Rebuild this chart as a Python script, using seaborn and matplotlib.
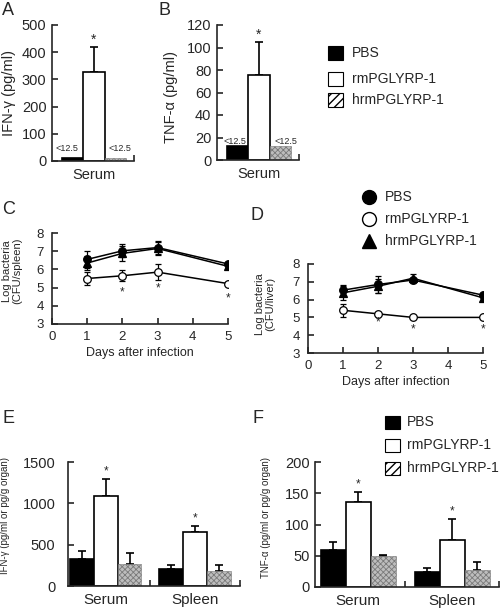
import numpy as np
import pandas as pd
import matplotlib
matplotlib.use("Agg")
import matplotlib.pyplot as plt
import seaborn as sns
from matplotlib.patches import Rectangle
from matplotlib.container import BarContainer

# ---------------- data ----------------
treatments = ["PBS", "rmPGLYRP-1", "hrmPGLYRP-1"]

# Panel A / B (serum, single category)
a_values = [12.5, 328, 12.5]
a_err = [0, 92, 0]
b_values = [12.5, 76, 12.5]
b_err = [0, 29, 0]
lod_label = "<12.5"

# Panels C / D (time course)
days = [1, 2, 3, 5]
c_pbs = [6.55, 7.02, 7.20, 6.30]
c_pbs_err = [0.45, 0.35, 0.35, 0.10]
c_rm = [5.50, 5.65, 5.85, 5.22]
c_rm_err = [0.35, 0.30, 0.42, 0.08]
c_hrm = [6.35, 6.88, 7.15, 6.17]
c_hrm_err = [0.40, 0.40, 0.35, 0.10]
c_star_days = [2, 3, 5]
c_star_y = [4.75, 4.95, 4.40]

d_pbs = [6.53, 6.85, 7.10, 6.25]
d_pbs_err = [0.30, 0.50, 0.12, 0.08]
d_rm = [5.40, 5.20, 5.00, 5.00]
d_rm_err = [0.37, 0.05, 0.03, 0.03]
d_hrm = [6.38, 6.75, 7.20, 6.10]
d_hrm_err = [0.40, 0.40, 0.25, 0.10]
d_star_days = [2, 3, 5]
d_star_y = [4.70, 4.33, 4.33]

# Panels E / F (serum, spleen)
tissues = ["Serum", "Spleen"]
e_pbs = [332, 204]
e_pbs_err = [92, 48]
e_rm = [1084, 652]
e_rm_err = [212, 72]
e_hrm = [272, 176]
e_hrm_err = [124, 76]

f_pbs = [58.8, 23.5]
f_pbs_err = [13, 7.5]
f_rm = [136, 75]
f_rm_err = [16, 34]
f_hrm = [49, 26.7]
f_hrm_err = [3, 13]

# ---------------- style ----------------
sns.set_style("ticks")
plt.rcParams["font.family"] = ["Liberation Sans", "DejaVu Sans"]
plt.rcParams["axes.linewidth"] = 1.2
plt.rcParams["hatch.linewidth"] = 0.6

W, H = 500, 609
fig = plt.figure(figsize=(W / 100, H / 100), dpi=100)


def px_axes(left, top, right, bottom):
    ax = fig.add_axes([left / W, 1 - bottom / H, (right - left) / W, (bottom - top) / H])
    ax.set_facecolor("none")
    return ax


bar_colors = {"PBS": "black", "rmPGLYRP-1": "white", "hrmPGLYRP-1": "#bdbdbd"}


def bar_panel(ax, cats, series, errs, xlim, ylim, yticks, ticksize, catsize, capsize):
    rows = []
    for t, vals in zip(treatments, series):
        for c, v in zip(cats, vals):
            rows.append({"tissue": c, "treatment": t, "value": v})
    df = pd.DataFrame(rows)
    sns.barplot(data=df, x="tissue", y="value", hue="treatment", hue_order=treatments,
                order=cats, palette=bar_colors, errorbar=None, width=0.8,
                edgecolor="black", linewidth=1.2, legend=False, ax=ax, zorder=2)
    bar_conts = [c for c in ax.containers if isinstance(c, BarContainer)]
    tops = []
    for i, cont in enumerate(bar_conts):
        col_tops = []
        for j, bar in enumerate(cont):
            if treatments[i] == "hrmPGLYRP-1":
                bar.set_hatch("xxxxxx")
                bar.set_edgecolor("#7a7a7a")
                bar.set_linewidth(0.4)
            x = bar.get_x() + bar.get_width() / 2
            y = bar.get_height()
            e = errs[i][j]
            if e > 0:
                ax.errorbar([x], [y], yerr=[[0], [e]], fmt="none", ecolor="black",
                            elinewidth=1.2, capsize=capsize, capthick=1.2, zorder=1)
            col_tops.append((x, y + e))
        tops.append(col_tops)
    ax.set_xlim(*xlim)
    ax.set_ylim(*ylim)
    ax.set_yticks(yticks)
    ax.set_xlabel("")
    ax.set_ylabel("")
    n = len(cats)
    ax.set_xticks([k + 0.5 for k in range(n)])
    ax.set_xticklabels([])
    ax.set_xticks(list(range(n)), minor=True)
    ax.set_xticklabels(cats, minor=True, fontsize=catsize)
    ax.tick_params(axis="x", which="minor", length=0, pad=5)
    ax.tick_params(axis="x", which="major", direction="in", length=4, width=1.2)
    ax.tick_params(axis="y", direction="in", length=4, width=1.2, labelsize=ticksize, pad=4)
    sns.despine(ax=ax)
    return tops


# ---- Panel A ----
axA = px_axes(52, 25, 134, 161)
topsA = bar_panel(axA, ["Serum"], [[v] for v in a_values], [[e] for e in a_err],
                  (-0.525, 0.5), (0, 500), [0, 100, 200, 300, 400, 500], 10.5, 10.5, 3)
axA.set_ylabel("IFN-γ (pg/ml)", fontsize=10.5, va="center")
axA.yaxis.set_label_coords((9 - 52) / 82, 0.5)
for i, dx in ((0, -4), (2, 3)):
    x, y = topsA[i][0]
    axA.annotate(lod_label, (x, y), xytext=(dx, 3), textcoords="offset points",
                 ha="center", va="bottom", fontsize=6.5)
x, y = topsA[1][0]
axA.annotate("*", (x, y), xytext=(0, 0), textcoords="offset points",
             ha="center", va="bottom", fontsize=10)

# ---- Panel B ----
axB = px_axes(217, 25, 299, 160)
topsB = bar_panel(axB, ["Serum"], [[v] for v in b_values], [[e] for e in b_err],
                  (-0.525, 0.5), (0, 120), [0, 20, 40, 60, 80, 100, 120], 10.5, 10.5, 3)
axB.set_ylabel("TNF-α (pg/ml)", fontsize=10.5, va="center")
axB.yaxis.set_label_coords((171 - 217) / 82, 1 - (97 - 25) / 135)
for i, dx in ((0, -2), (2, 4)):
    x, y = topsB[i][0]
    axB.annotate(lod_label, (x, y), xytext=(dx, 0), textcoords="offset points",
                 ha="center", va="bottom", fontsize=6.5)
x, y = topsB[1][0]
axB.annotate("*", (x, y), xytext=(0, 0), textcoords="offset points",
             ha="center", va="bottom", fontsize=10)


# ---- line panels ----
def line_panel(ax, series, errs, star_days, star_y, ylabel, label_x_frac, label_y_frac):
    markers = ["o", "o", "^"]
    faces = ["black", "white", "black"]
    for vals, err in zip(series, errs):
        ax.errorbar(days, vals, yerr=err, fmt="none", ecolor="black", elinewidth=0.9,
                    capsize=2, capthick=0.9, zorder=2)
    for vals, m, fc in zip(series, markers, faces):
        sns.lineplot(x=days, y=vals, color="black", linewidth=1.1, marker=m,
                     markersize=5.5, markerfacecolor=fc, markeredgecolor="black",
                     markeredgewidth=0.9, ax=ax, zorder=3)
    for d, s in zip(star_days, star_y):
        ax.text(d, s, "*", ha="center", va="center", fontsize=8.5)
    ax.set_xlim(0, 5)
    ax.set_ylim(3, 8)
    ax.set_xticks([0, 1, 2, 3, 4, 5])
    ax.set_yticks([3, 4, 5, 6, 7, 8])
    ax.tick_params(direction="in", length=4, width=1.2, labelsize=9.5)
    ax.tick_params(axis="y", pad=6)
    ax.tick_params(axis="x", pad=5)
    ax.set_xlabel("Days after infection", fontsize=9, labelpad=3)
    ax.set_ylabel(ylabel, fontsize=8, va="center", linespacing=1.0)
    ax.yaxis.set_label_coords(label_x_frac, label_y_frac)
    sns.despine(ax=ax)


axC = px_axes(52, 233, 228, 324)
line_panel(axC, [c_pbs, c_rm, c_hrm], [c_pbs_err, c_rm_err, c_hrm_err],
           c_star_days, c_star_y, "Log bacteria\n(CFU/spleen)",
           (12 - 52) / 176, 1 - (271 - 233) / 91)

axD = px_axes(308, 264, 483, 353)
line_panel(axD, [d_pbs, d_rm, d_hrm], [d_pbs_err, d_rm_err, d_hrm_err],
           d_star_days, d_star_y, "Log bacteria\n(CFU/liver)",
           (265 - 308) / 175, 1 - (304 - 264) / 89)

# ---- Panel E ----
axE = px_axes(68, 462, 240, 586)
topsE = bar_panel(axE, tissues, [e_pbs, e_rm, e_hrm], [e_pbs_err, e_rm_err, e_hrm_err],
                  (-0.42, 1.5), (0, 1500), [0, 500, 1000, 1500], 10.5, 11, 3)
axE.tick_params(axis="y", pad=9)
axE.set_ylabel("IFN-γ (pg/ml or pg/g organ)", fontsize=7, va="center")
axE.yaxis.set_label_coords((5 - 68) / 172, 1 - (515 - 462) / 124)
for x, y in topsE[1]:
    axE.annotate("*", (x, y), xytext=(0, 1), textcoords="offset points",
                 ha="center", va="bottom", fontsize=8.5)

# ---- Panel F ----
axF = px_axes(315, 462, 499, 587)
topsF = bar_panel(axF, tissues, [f_pbs, f_rm, f_hrm], [f_pbs_err, f_rm_err, f_hrm_err],
                  (-0.46, 1.5), (0, 200), [0, 50, 100, 150, 200], 10.5, 11, 3)
axF.set_ylabel("TNF-α (pg/ml or pg/g organ)", fontsize=7, va="center")
axF.yaxis.set_label_coords((266 - 315) / 184, 1 - (517 - 462) / 125)
for x, y in topsF[1]:
    axF.annotate("*", (x, y), xytext=(0, 1), textcoords="offset points",
                 ha="center", va="bottom", fontsize=8.5)

# ---------------- overlay: panel letters + legends ----------------
ov = fig.add_axes([0, 0, 1, 1])
ov.set_xlim(0, W)
ov.set_ylim(H, 0)
ov.axis("off")
ov.set_facecolor("none")

for letter, (lx, ly) in {"A": (2, 15), "B": (159, 15), "C": (2, 214),
                         "D": (251, 220), "E": (2, 423), "F": (252, 423)}.items():
    ov.text(lx, ly, letter, fontsize=13, ha="left", va="baseline")


def square_legend(x0, centers, size_w, size_h, text_x, fs):
    plt.rcParams["hatch.linewidth"] = 1.0
    for t, cy in zip(treatments, centers):
        fc = {"PBS": "black", "rmPGLYRP-1": "white", "hrmPGLYRP-1": "white"}[t]
        r = Rectangle((x0, cy - size_h / 2), size_w, size_h, facecolor=fc,
                      edgecolor="black", linewidth=0.8,
                      hatch="////" if t == "hrmPGLYRP-1" else None)
        ov.add_patch(r)
        ov.text(text_x, cy, t, fontsize=fs, ha="left", va="center")


square_legend(328, [53, 79, 100], 15, 14, 352, 10)
square_legend(385, [422, 445, 468], 15, 13, 407, 10)

# D legend (markers)
leg_markers = [("o", "black"), ("o", "white"), ("^", "black")]
for t, (m, fc), cy in zip(treatments, leg_markers, [197, 219, 241]):
    ov.plot([369], [cy], marker=m, markersize=10, markerfacecolor=fc,
            markeredgecolor="black", markeredgewidth=1.0, linestyle="none")
    ov.text(385, cy, t, fontsize=10, ha="left", va="center")

fig.savefig("out.png", dpi=100)
